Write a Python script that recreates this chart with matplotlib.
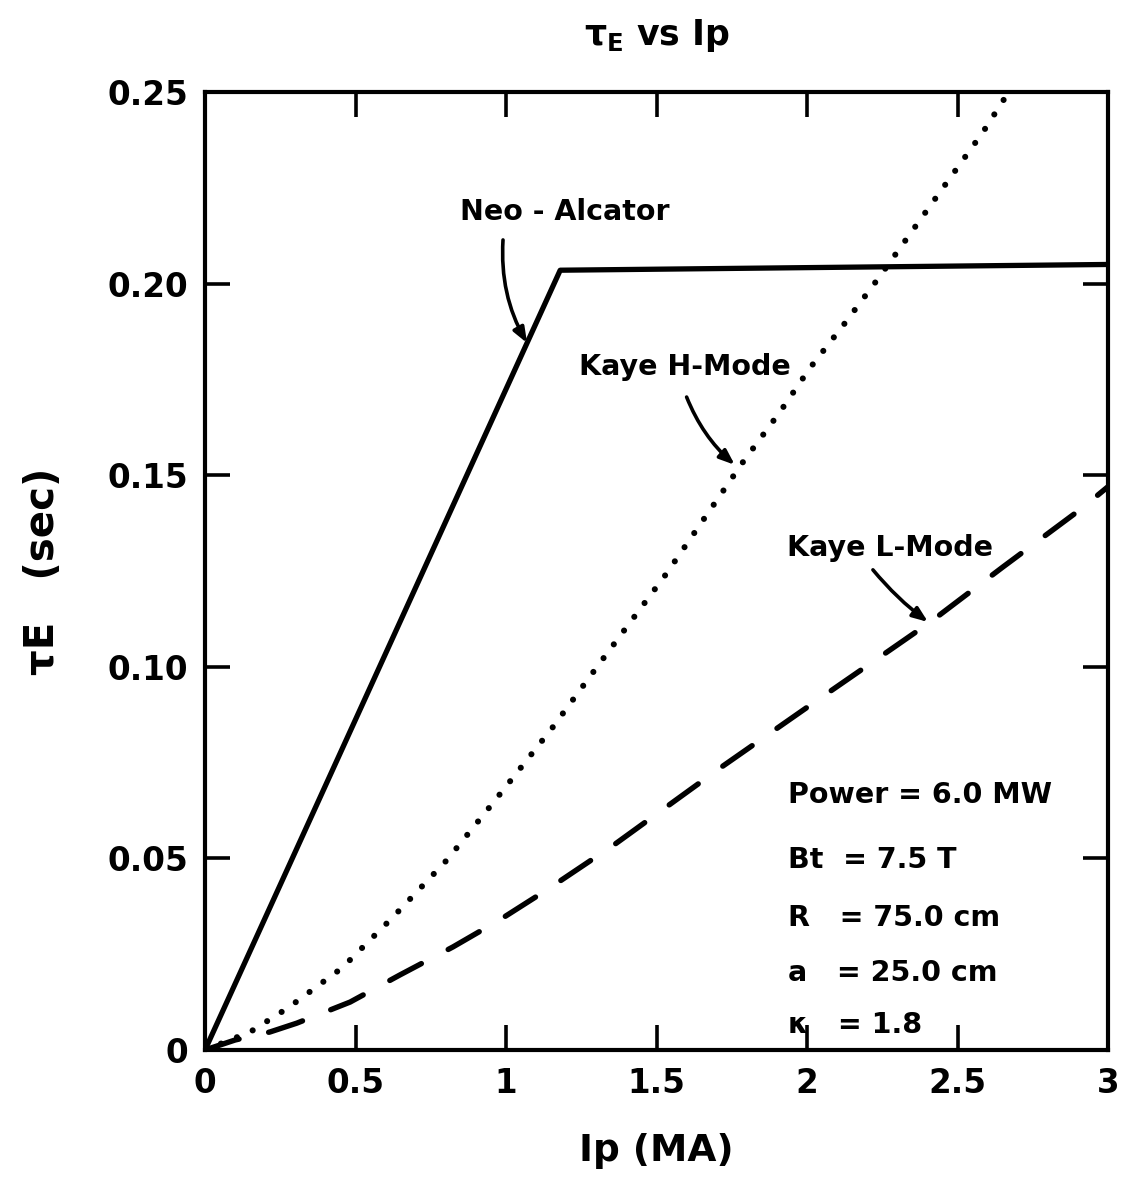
import numpy as np
import matplotlib
matplotlib.use("Agg")
import matplotlib.pyplot as plt

# ---- data ----
# Neo-Alcator: linear rise then saturation
neo_ip = [0.0, 1.18, 3.0]
neo_tau = [0.0, 0.2035, 0.205]

# Kaye H-Mode (dotted)
h_ip = [0.0, 0.15, 0.276, 0.455, 0.621, 0.804, 0.957, 1.156, 1.312,
        1.53, 1.787, 1.91, 2.01, 2.126, 2.24, 2.34, 2.47, 2.585, 2.67]
h_tau = [0.0, 0.0047, 0.011, 0.0214, 0.0344, 0.0496, 0.0645, 0.0843, 0.101,
         0.124, 0.1534, 0.1665, 0.178, 0.1897, 0.2017, 0.2127, 0.227, 0.2396, 0.25]

# Kaye L-Mode (dashed)
l_ip = [0.0, 0.1, 0.216, 0.305, 0.482, 0.648, 0.824, 0.98, 1.136,
        1.36, 1.717, 2.02, 2.276, 2.41, 2.65, 2.907, 3.0]
l_tau = [0.0, 0.0026, 0.0047, 0.007, 0.0125, 0.0196, 0.0269, 0.034, 0.0418,
         0.0536, 0.0739, 0.0905, 0.1044, 0.1117, 0.126, 0.141, 0.147]

x_ticks = [0, 0.5, 1, 1.5, 2, 2.5, 3]
x_labels = ["0", "0.5", "1", "1.5", "2", "2.5", "3"]
y_ticks = [0, 0.05, 0.10, 0.15, 0.20, 0.25]
y_labels = ["0", "0.05", "0.10", "0.15", "0.20", "0.25"]

params = ["Power = 6.0 MW", "Bt  = 7.5 T", "R   = 75.0 cm", "a   = 25.0 cm", "κ   = 1.8"]
param_y = [0.0665, 0.0496, 0.0344, 0.0201, 0.0065]

plt.rcParams["font.family"] = ["DejaVu Sans"]
plt.rcParams["font.weight"] = "bold"
plt.rcParams["axes.labelweight"] = "bold"
plt.rcParams["axes.titleweight"] = "bold"
plt.rcParams["mathtext.default"] = "bf"

fig = plt.figure(figsize=(11.29, 11.8), dpi=100)
ax = fig.add_axes([0.1816, 0.1102, 0.7998, 0.8118])

ax.plot(neo_ip, neo_tau, color="black", lw=3.8, solid_capstyle="round",
        solid_joinstyle="round")
ax.plot(h_ip, h_tau, color="black", lw=4.4, linestyle=(0, (0.01, 2.8)),
        dash_capstyle="round")
ax.plot(l_ip, l_tau, color="black", lw=3.9, linestyle=(0, (6.6, 5.6)),
        dash_capstyle="round")

ax.set_xlim(0, 3)
ax.set_ylim(0, 0.25)
ax.set_xticks(x_ticks)
ax.set_xticklabels(x_labels)
ax.set_yticks(y_ticks)
ax.set_yticklabels(y_labels)
ax.tick_params(direction="in", length=18, width=2.6, top=True, right=True,
               labelsize=23.5, pad=12)
for s in ax.spines.values():
    s.set_linewidth(3.0)

ax.set_xlabel("Ip (MA)", fontsize=27, labelpad=24)
ax.set_ylabel("τE   (sec)", fontsize=29, labelpad=32)
ax.set_title(r"$\tau_E$ vs Ip", fontsize=25, pad=34)

arrow = dict(arrowstyle="-|>,head_length=0.9,head_width=0.35", color="black",
             lw=2.6, shrinkA=0, shrinkB=0)
ax.annotate("Neo - Alcator", xy=(1.196, 0.2187), fontsize=20.5,
            ha="center", va="center")
ax.annotate("", xy=(1.07, 0.1845), xytext=(0.99, 0.2114),
            arrowprops=dict(arrow, connectionstyle="arc3,rad=0.15"))
ax.annotate("Kaye H-Mode", xy=(1.595, 0.1782), fontsize=20.5,
            ha="center", va="center")
ax.annotate("", xy=(1.76, 0.1527), xytext=(1.60, 0.1704),
            arrowprops=dict(arrow, connectionstyle="arc3,rad=0.12"))
ax.annotate("Kaye L-Mode", xy=(2.276, 0.131), fontsize=20.5,
            ha="center", va="center")
ax.annotate("", xy=(2.402, 0.1117), xytext=(2.219, 0.1253),
            arrowprops=dict(arrow, connectionstyle="arc3,rad=0.06"))

for txt, yy in zip(params, param_y):
    ax.text(1.937, yy, txt, fontsize=20.5, ha="left", va="center")

fig.savefig("out.png", dpi=100)
